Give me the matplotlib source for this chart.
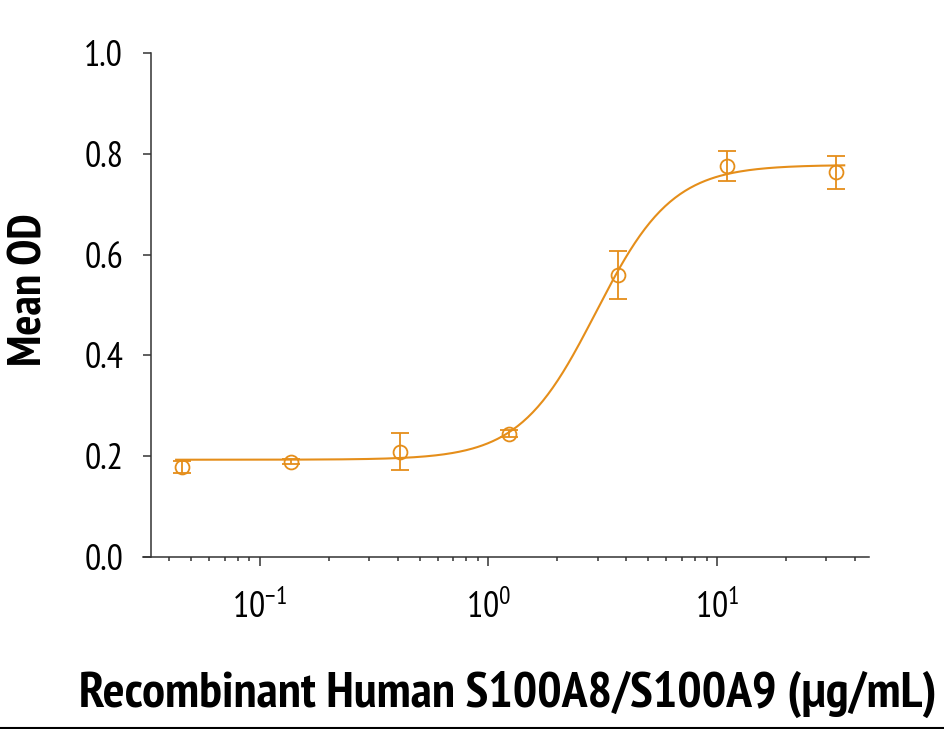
import numpy as np
import matplotlib
matplotlib.use("Agg")
import matplotlib.pyplot as plt
from matplotlib.lines import Line2D
from matplotlib.ticker import LogLocator, NullFormatter

plt.rcParams['font.family'] = ['PT Sans Narrow', 'DejaVu Sans']
plt.rcParams['mathtext.fontset'] = 'custom'
plt.rcParams['mathtext.rm'] = 'PT Sans Narrow'
plt.rcParams['mathtext.default'] = 'regular'

# concentrations (ug/mL), 3-fold dilutions
conc = [0.0457, 0.137, 0.412, 1.235, 3.70, 11.1, 33.3]
mean_od = [0.179, 0.189, 0.209, 0.245, 0.560, 0.776, 0.763]
sd_od = [0.012, 0.005, 0.037, 0.007, 0.048, 0.029, 0.033]
y_ticks = [0, 0.2, 0.4, 0.6, 0.8, 1.0]
y_ticklabels = ['0.0', '0.2', '0.4', '0.6', '0.8', '1.0']

# 4PL fit parameters
bottom, top, ec50, hill = 0.193, 0.778, 2.95, 2.6

orange = '#E58E1A'
axis_col = '#333333'

fig = plt.figure(figsize=(9.44, 7.29), dpi=100)
ax = fig.add_axes([143 / 944, (729 - 557) / 729, (869 - 143) / 944, (557 - 53) / 729])

xs = np.logspace(np.log10(0.043), np.log10(36), 400)
fit = bottom + (top - bottom) / (1 + (ec50 / xs) ** hill)
ax.plot(xs, fit, color=orange, lw=1.5)
ax.errorbar(conc, mean_od, yerr=sd_od, fmt='o', mfc='none', mec=orange, mew=1.3,
            ms=10, ecolor=orange, elinewidth=1.3, capsize=6.5, capthick=1.3)

ax.set_xscale('log')
ax.set_xlim(0.0308, 46.2)
ax.set_ylim(0, 1.0)
ax.set_yticks(y_ticks)
ax.set_yticklabels(y_ticklabels)
ax.xaxis.set_major_locator(LogLocator(base=10, numticks=10))
ax.xaxis.set_minor_locator(LogLocator(base=10, subs=np.arange(2, 10), numticks=10))
ax.xaxis.set_minor_formatter(NullFormatter())

for s in ['top', 'right']:
    ax.spines[s].set_visible(False)
for s in ['left', 'bottom']:
    ax.spines[s].set_color(axis_col)
    ax.spines[s].set_linewidth(1.1)
ax.spines['left'].set_position(('outward', -8 * 0.72))

ax.tick_params(axis='y', which='major', length=6, width=1.1, color=axis_col,
               labelsize=26, pad=14)
ax.tick_params(axis='x', which='major', length=6.5, width=1.1, color=axis_col,
               labelsize=26, pad=17)
ax.tick_params(axis='x', which='minor', length=3, width=1.1, color=axis_col)

ax.set_ylabel('Mean OD', fontsize=34, fontweight='bold')
ax.yaxis.set_label_coords(-0.127, 0.53)
ax.set_xlabel('Recombinant Human S100A8/S100A9 (\u03bcg/mL)', fontsize=37,
              fontweight='bold')
ax.xaxis.set_label_coords(0.502, -0.225)

fig.add_artist(Line2D([0, 1], [1.5 / 729, 1.5 / 729], transform=fig.transFigure,
                      color='black', lw=1.5))

fig.savefig('out.png', dpi=100)
